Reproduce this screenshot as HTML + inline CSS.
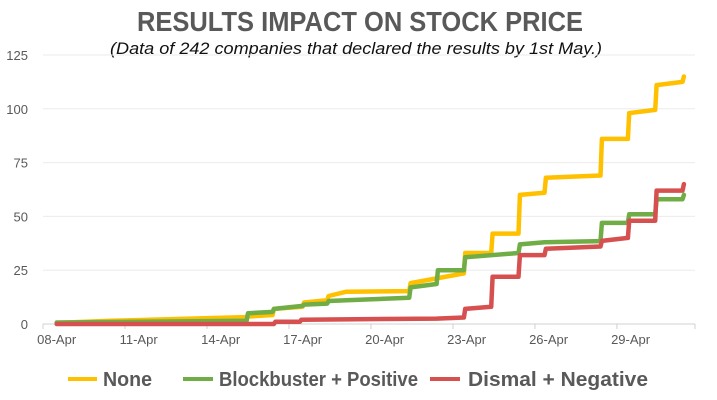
<!DOCTYPE html>
<html><head><meta charset="utf-8"><style>
html,body{margin:0;padding:0;background:#fff;}
svg{display:block;font-family:"Liberation Sans",sans-serif;}
</style></head><body>
<svg id="chart" width="717" height="400" viewBox="0 0 717 400">
<text x="360" y="31" text-anchor="middle" font-size="28" font-weight="bold" fill="#595959" textLength="446" lengthAdjust="spacingAndGlyphs">RESULTS IMPACT ON STOCK PRICE</text>
<text x="356" y="54" text-anchor="middle" font-size="17" font-style="italic" fill="#111" textLength="492" lengthAdjust="spacingAndGlyphs">(Data of 242 companies that declared the results by 1st May.)</text>
<g id="grid"></g><g id="axes"></g><g id="series"></g>
<g>
<g><line x1="68" y1="379" x2="97" y2="379" stroke="#FFC000" stroke-width="4"/><text x="103" y="386" font-size="20" font-weight="bold" fill="#595959" textLength="49" lengthAdjust="spacingAndGlyphs">None</text></g>
<g><line x1="183" y1="379" x2="213" y2="379" stroke="#70AD47" stroke-width="4"/><text x="219" y="386" font-size="20" font-weight="bold" fill="#595959" textLength="199" lengthAdjust="spacingAndGlyphs">Blockbuster + Positive</text></g>
<g><line x1="430" y1="379" x2="460" y2="379" stroke="#D6504F" stroke-width="4"/><text x="468" y="386" font-size="20" font-weight="bold" fill="#595959" textLength="180" lengthAdjust="spacingAndGlyphs">Dismal + Negative</text></g>
</g>
</svg>
<script>
const yTicks=[0,25,50,75,100,125];
const xTickLabels=["08-Apr","11-Apr","14-Apr","17-Apr","20-Apr","23-Apr","26-Apr","29-Apr"];
const xTickDays=[0,3,6,9,12,15,18,21];
const noneDays=[0,2,6.9,7.0,7.9,7.95,9.0,9.05,9.9,9.95,10.6,12.9,12.95,14.9,14.95,15.9,15.95,16.9,16.95,17.85,17.9,19.9,19.95,20.9,20.95,21.9,21.95,22.9,22.95];
const noneVals=[0.5,1.5,3.2,3.5,4.2,7,8,10,11,13,15,15.3,19,23.5,33,33,42,42,60,61,68,69,86,86,98,99.5,111,112.5,115];
const blockDays=[0,6.95,7.0,7.9,7.95,9.0,9.05,9.9,9.95,10.6,12.9,12.95,13.9,13.95,14.9,14.95,16.9,16.95,17.85,19.9,19.95,20.9,20.95,21.9,21.95,22.9,22.95];
const blockVals=[0.7,1.5,5,5.6,7,8.4,9,9.5,10.7,11,12.2,17,18.6,25,25,31,33,37,38,38.5,47,47,51,51,58,58,60];
const dismalDays=[0,7.95,8.0,8.9,8.95,13.9,14.9,14.95,15.9,15.95,16.9,16.95,17.85,17.9,19.9,19.95,20.9,20.95,21.9,21.95,22.9,22.95];
const dismalVals=[0,0,1,1,2,2.5,3,7,8,22,22,32,32,35,36,38.6,40,48,48,62,62,65];
const NS="http://www.w3.org/2000/svg";
const X0=43,DAYW=27.33,Y0=324,YPX=269/125,XEND=695;
const xs=d=>X0+DAYW*(d+0.5), ys=v=>Y0-v*YPX;
function mk(tag,attrs,parent){const e=document.createElementNS(NS,tag);for(const k in attrs)e.setAttribute(k,attrs[k]);parent.appendChild(e);return e;}
const grid=document.getElementById('grid'),axes=document.getElementById('axes'),ser=document.getElementById('series');
yTicks.forEach(t=>{
 if(t>0){const g=mk('line',{x1:X0,x2:XEND,y1:ys(t),y2:ys(t),stroke:'#ebebeb','stroke-width':1},grid);
 
 }
 const l=mk('text',{x:28,y:ys(t)+5,'text-anchor':'end','font-size':13,fill:'#595959'},axes);l.textContent=t;
 
 
});
const ax=mk('line',{x1:X0,x2:XEND,y1:Y0,y2:Y0,stroke:'#d0d0d0','stroke-width':1},axes);


xTickDays.forEach((d,i)=>{
 const tk=mk('line',{x1:xs(d)-DAYW/2,x2:xs(d)-DAYW/2,y1:Y0,y2:Y0+5,stroke:'#d0d0d0'},axes);
 
 
 const l=mk('text',{x:xs(d),y:Y0+20,'text-anchor':'middle','font-size':13,fill:'#595959'},axes);l.textContent=xTickLabels[i];
 
 
});
const et=mk('line',{x1:XEND,x2:XEND,y1:Y0,y2:Y0+5,stroke:'#d0d0d0'},axes);


function line(days,vals,color,name){
 const d=days.map((t,i)=>(i?'L':'M')+xs(t).toFixed(1)+','+ys(vals[i]).toFixed(1)).join('');
 const p=mk('path',{d:d,fill:'none',stroke:color,'stroke-width':4.5,'stroke-linejoin':'round','stroke-linecap':'round'},ser);
 
 
}
line(noneDays,noneVals,'#FFC000','line-none');
line(blockDays,blockVals,'#70AD47','line-blockbuster-positive');
line(dismalDays,dismalVals,'#D6504F','line-dismal-negative');
</script>
</body></html>
